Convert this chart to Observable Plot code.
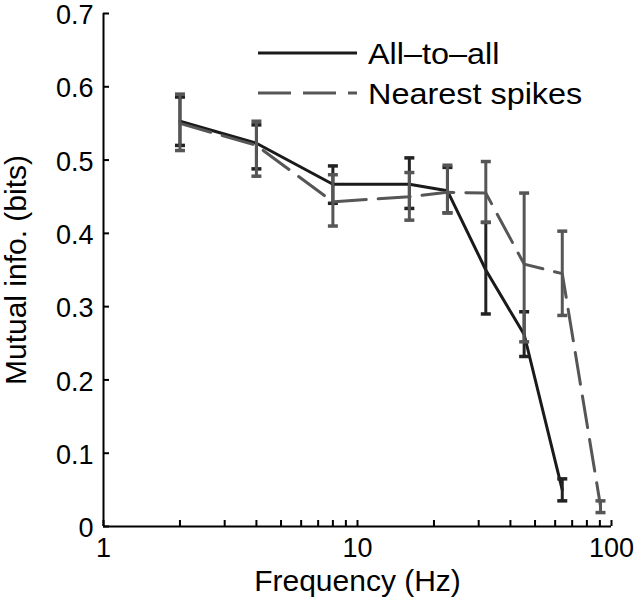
<!DOCTYPE html>
<html>
<head>
<meta charset="utf-8">
<script src="https://cdn.jsdelivr.net/npm/d3@7"></script>
<script src="https://cdn.jsdelivr.net/npm/@observablehq/plot@0.6"></script>
<style>
  body { margin: 0; background: #fff; }
  #wrap { position: relative; width: 640px; height: 611px; font-family: "Liberation Sans", Arial, Helvetica, sans-serif; }
  #legend { position: absolute; left: 0; top: 0; }
</style>
</head>
<body>
<div id="wrap"></div>
<script>
// Frequencies (Hz)
const freqAll = [2, 4, 8, 16, 22.6, 32, 45.3, 64];
const allMean = [0.553, 0.523, 0.467, 0.467, 0.458, 0.350, 0.262, 0.050];
const allLo   = [0.520, 0.488, 0.441, 0.434, 0.428, 0.290, 0.232, 0.035];
const allHi   = [0.586, 0.548, 0.492, 0.503, 0.490, 0.415, 0.293, 0.065];

const freqNear = [2, 4, 8, 16, 22.6, 32, 45.3, 64, 90.5];
const nearMean = [0.550, 0.520, 0.443, 0.450, 0.456, 0.455, 0.358, 0.345, 0.028];
const nearLo   = [0.513, 0.478, 0.410, 0.418, 0.428, 0.415, 0.252, 0.288, 0.019];
const nearHi   = [0.590, 0.553, 0.480, 0.483, 0.493, 0.498, 0.455, 0.403, 0.035];

const seriesNames = ["All\u2013to\u2013all", "Nearest spikes"];
const xLabelTicks = [1, 10, 100];
const xMinorTicks = [1,2,3,4,5,6,7,8,9,10,20,30,40,50,60,70,80,90,100];
const yTicks = [0, 0.1, 0.2, 0.3, 0.4, 0.5, 0.6, 0.7];
const xTitle = "Frequency (Hz)";
const yTitle = "Mutual info. (bits)";

const BLACK = "#1a1a1a";
const GRAY = "#565656";
const FONT = "Liberation Sans, Arial, Helvetica, sans-serif";

const allData = freqAll.map((f, i) => ({f, m: allMean[i], lo: allLo[i], hi: allHi[i]}));
const nearData = freqNear.map((f, i) => ({f, m: nearMean[i], lo: nearLo[i], hi: nearHi[i]}));

const cap = {draw(ctx, size) { const w = Math.sqrt(size / Math.PI); ctx.moveTo(-w, 0); ctx.lineTo(w, 0); }};

const chart = Plot.plot({
  width: 640,
  height: 611,
  marginLeft: 103,
  marginRight: 29,
  marginTop: 13,
  marginBottom: 85,
  style: {fontFamily: FONT, fontSize: "27px", color: "#000", background: "#fff", overflow: "visible"},
  x: {type: "log", domain: [1, 100]},
  y: {domain: [0, 0.7]},
  marks: [
    Plot.ruleX([1], {stroke: "#000", strokeWidth: 2}),
    Plot.ruleY([0], {stroke: "#000", strokeWidth: 2}),
    Plot.axisX({ticks: xMinorTicks, tickSize: -6, tickFormat: null, strokeWidth: 2, label: null, text: null}),
    Plot.axisY({ticks: yTicks, tickSize: -6, tickFormat: null, strokeWidth: 2, label: null, text: null}),
    Plot.axisX({ticks: xLabelTicks, tickSize: 0, tickPadding: 11, tickFormat: d => String(d), label: null, fontSize: 27, ariaLabel: "xticklabels"}),
    Plot.axisY({ticks: yTicks, tickSize: 0, tickPadding: 10, dy: 2, tickFormat: d => d === 0 ? "0" : d3.format(".1f")(d), label: null, fontSize: 27, ariaLabel: "yticklabels"}),
    Plot.text([xTitle], {frameAnchor: "bottom", textAnchor: "middle", dy: 64, fontSize: 30, fill: "#000", ariaLabel: "xtitle"}),
    Plot.text([yTitle], {frameAnchor: "left", textAnchor: "middle", dx: -87, rotate: -90, fontSize: 30, fill: "#000", ariaLabel: "ytitle"}),
    // All-to-all
    Plot.line(allData, {x: "f", y: "m", stroke: BLACK, strokeWidth: 3}),
    Plot.ruleX(allData, {x: "f", y1: "lo", y2: "hi", stroke: "#222", strokeWidth: 3}),
    Plot.dot(allData, {x: "f", y: "lo", symbol: cap, r: 5, stroke: "#222", strokeWidth: 3.5}),
    Plot.dot(allData, {x: "f", y: "hi", symbol: cap, r: 5, stroke: "#222", strokeWidth: 3.5}),
    // Nearest spikes
    Plot.line(nearData, {x: "f", y: "m", stroke: GRAY, strokeWidth: 3, strokeDasharray: "32,12"}),
    Plot.ruleX(nearData, {x: "f", y1: "lo", y2: "hi", stroke: GRAY, strokeWidth: 3}),
    Plot.dot(nearData, {x: "f", y: "lo", symbol: cap, r: 5, stroke: GRAY, strokeWidth: 3.5}),
    Plot.dot(nearData, {x: "f", y: "hi", symbol: cap, r: 5, stroke: GRAY, strokeWidth: 3.5})
  ]
});

// horizontal stretch of text glyphs, as in the reference
function stretch(selector, sx) {
  chart.querySelectorAll(selector).forEach(t => {
    const tr = t.getAttribute("transform") || "";
    t.setAttribute("transform", tr + ` scale(${sx},1)`);
  });
}
stretch('g[aria-label="xticklabels"] text', 1.22);
stretch('g[aria-label="yticklabels"] text', 1.22);
stretch('g[aria-label="xtitle"] text', 1.08);
stretch('g[aria-label="ytitle"] text', 1.08);

const wrap = document.getElementById("wrap");
wrap.appendChild(chart);

// Legend overlay
const ns = "http://www.w3.org/2000/svg";
const leg = document.createElementNS(ns, "svg");
leg.setAttribute("id", "legend");
leg.setAttribute("width", 640);
leg.setAttribute("height", 120);
const legendRows = [
  {name: seriesNames[0], stroke: BLACK, dash: null, y: 53},
  {name: seriesNames[1], stroke: GRAY, dash: "33,12", y: 93}
];
legendRows.forEach(r => {
  const l = document.createElementNS(ns, "line");
  l.setAttribute("x1", 258); l.setAttribute("x2", 357);
  l.setAttribute("y1", r.y); l.setAttribute("y2", r.y);
  l.setAttribute("stroke", r.stroke); l.setAttribute("stroke-width", 3);
  if (r.dash) l.setAttribute("stroke-dasharray", r.dash);
  leg.appendChild(l);
  const t = document.createElementNS(ns, "text");
  t.setAttribute("transform", `translate(368,${r.y}) scale(1.08,1)`);
  t.setAttribute("dy", "0.35em");
  t.setAttribute("font-size", 30);
  t.setAttribute("font-family", FONT);
  t.setAttribute("fill", "#000");
  t.textContent = r.name;
  leg.appendChild(t);
});
wrap.appendChild(leg);
</script>
</body>
</html>
